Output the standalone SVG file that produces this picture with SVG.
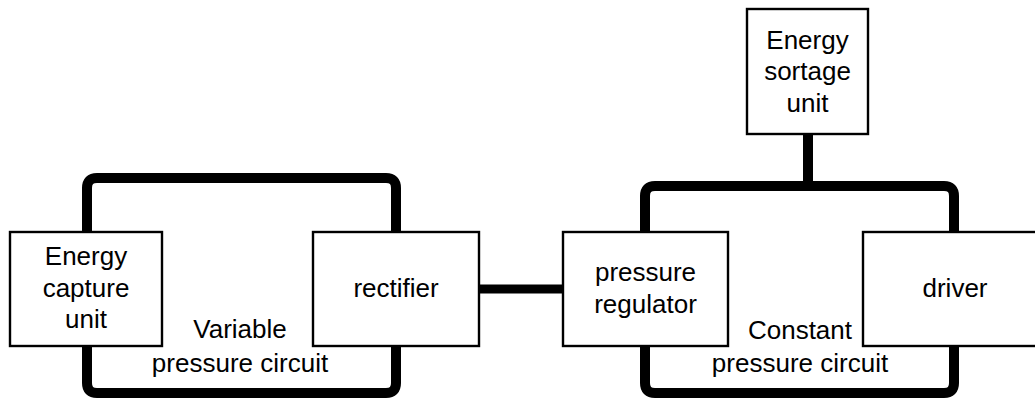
<svg xmlns="http://www.w3.org/2000/svg" width="1035" height="398" viewBox="0 0 1035 398">
<style>
.box{fill:#fff;stroke:#000;stroke-width:2.4}
.t{font-family:"Liberation Sans",Arial,sans-serif;font-size:26px;fill:#000;text-anchor:middle}
.pipe{fill:none;stroke:#000;stroke-width:10;stroke-linecap:round;stroke-linejoin:round}
</style>
<rect width="1035" height="398" fill="#fff"/>
<g id="connectors">
<path class="pipe" d="M87,232 V188 Q87,178 97,178 H386 Q396,178 396,188 V232"/>
<path class="pipe" d="M87,347 V383 Q87,393 97,393 H386 Q396,393 396,383 V347"/>
<path class="pipe" d="M645,232 V196 Q645,186 655,186 H944 Q954,186 954,196 V232"/>
<path class="pipe" d="M645,347 V383 Q645,393 655,393 H944 Q954,393 954,383 V347"/>
<path class="pipe" d="M808,134 V186"/>
<path class="pipe" style="stroke-width:9" d="M479,289 H563"/>
</g>
<g id="energy-capture">
<rect class="box" x="10" y="232" width="152" height="114"/>
<text class="t" x="86" y="265">Energy</text>
<text class="t" x="86" y="296.5">capture</text>
<text class="t" x="86" y="328">unit</text>
</g>
<g id="rectifier">
<rect class="box" x="313" y="232" width="166" height="114"/>
<text class="t" x="396" y="297">rectifier</text>
</g>
<g id="pressure-regulator">
<rect class="box" x="563" y="232" width="165" height="114"/>
<text class="t" x="645.5" y="281">pressure</text>
<text class="t" x="645.5" y="312.5">regulator</text>
</g>
<g id="driver">
<rect class="box" x="863" y="232" width="183" height="114"/>
<text class="t" x="955" y="297">driver</text>
</g>
<g id="energy-storage">
<rect class="box" x="747" y="9" width="121" height="125"/>
<text class="t" x="807.5" y="48.5">Energy</text>
<text class="t" x="807.5" y="80">sortage</text>
<text class="t" x="807.5" y="111.5">unit</text>
</g>
<g id="variable-label">
<text class="t" x="240" y="338">Variable</text>
<text class="t" x="240" y="372">pressure circuit</text>
</g>
<g id="constant-label">
<text class="t" x="800" y="339">Constant</text>
<text class="t" x="800" y="372">pressure circuit</text>
</g>
</svg>
